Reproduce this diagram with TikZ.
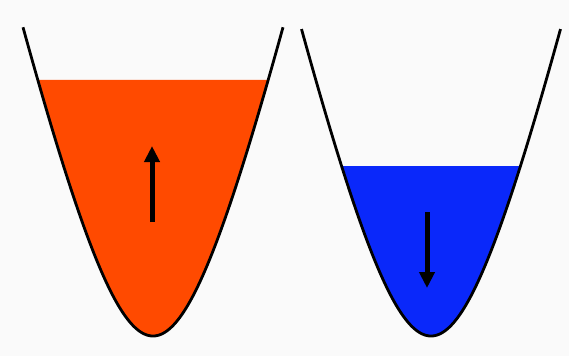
\documentclass[tikz,border=0pt]{standalone}
\usetikzlibrary{arrows.meta}
\definecolor{bgc}{RGB}{250,250,250}
\definecolor{orangefill}{RGB}{255,74,0}
\definecolor{bluefill}{RGB}{10,40,250}
\begin{document}
\begin{tikzpicture}[x=1pt,y=-1pt,
  wall/.style={line width=2.8pt, black},
  motion/.style={line width=5pt, -{Triangle[width=15pt,length=16pt]}}]
\fill[bgc] (0,0) rectangle (569,356);
\useasboundingbox (0,0) rectangle (569,356);
% left well
\fill[orangefill] plot[domain=-115.2:115.2, samples=120] ({153+\x},{336-340*(sqrt(1+(\x/80)^2)-1)}) -- cycle;
\draw[wall] plot[domain=-130:130, samples=160] ({153+\x},{336-340*(sqrt(1+(\x/80)^2)-1)});
% right well
\fill[bluefill] plot[domain=-89.4:89.4, samples=120] ({431+\x},{336-340*(sqrt(1+(\x/80)^2)-1)}) -- cycle;
\draw[wall] plot[domain=-129.5:129.5, samples=160] ({431+\x},{336-340*(sqrt(1+(\x/80)^2)-1)});
% arrows
\coordinate (upS) at (152,222);
\coordinate (upE) at (152,146);
\coordinate (dnS) at (427,212);
\coordinate (dnE) at (427,288);
\draw[motion] (upS) -- (upE);
\draw[motion] (dnS) -- (dnE);
\end{tikzpicture}
\end{document}
